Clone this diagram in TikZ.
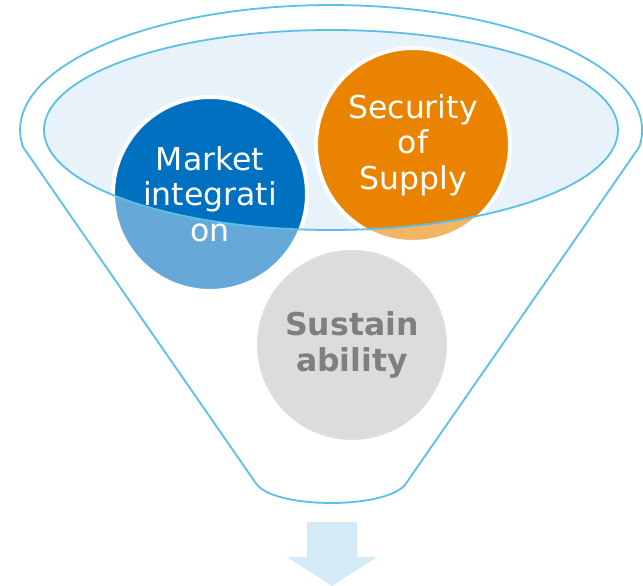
\documentclass[tikz,border=0pt]{standalone}
\usepackage{fontspec}
\setmainfont{DejaVu Sans}
\usepackage{tikz}
\definecolor{funnelline}{RGB}{91,192,232}
\definecolor{topfill}{RGB}{231,242,250}
\definecolor{marketblue}{RGB}{0,112,192}
\definecolor{supplyorange}{RGB}{234,132,0}
\definecolor{sustaingray}{RGB}{197,197,197}
\definecolor{sustaintext}{RGB}{43,43,43}
\definecolor{outarrow}{RGB}{213,234,247}
\tikzset{bubble/.style={shape=circle, draw=white, line width=4pt, text=white,
    minimum size=194pt, inner sep=0pt, align=center,
    font=\fontsize{31.5}{35.5}\selectfont}}
\tikzset{rim/.style={draw=funnelline, line width=1.8pt}}

\begin{document}
\begin{tikzpicture}[x=1pt, y=-1pt]
      \useasboundingbox (0,0) rectangle (643,586);
      \fill[topfill] (331,130) ellipse [x radius=287, y radius=100];
      \node[bubble, fill=marketblue] (market) at (210,194) {Market\\integrati\\on};
      \node[bubble, fill=supplyorange] (supply) at (413,145) {Security\\of\\Supply};
      \node[bubble, fill=sustaingray, text=sustaintext,
      font=\fontsize{31.5}{35.5}\selectfont\bfseries] (sustain) at (352,345) {Sustain\\ability};
      % front of the funnel
      \fill[white, fill opacity=0.4, even odd rule] (0,0) rectangle (643,586)
      (331,130) ellipse [x radius=287, y radius=100];
      \path[rim] (331,130) ellipse [x radius=287, y radius=100];
      \path[rim] (23,147) arc[start angle=172.2, end angle=367.8, x radius=311, y radius=125]
      -- (407,482) .. controls (392,510) and (270,510) .. (255,482) -- cycle;
      % outlet
      \fill[outarrow] (307,522) -- (357,522) -- (357,557) -- (377,557) -- (332,586)
      -- (287,557) -- (307,557) -- cycle;
    \end{tikzpicture}
\end{document}
